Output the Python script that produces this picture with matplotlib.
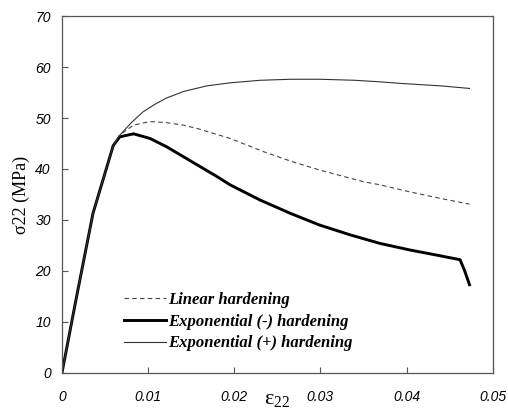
import matplotlib
matplotlib.use("Agg")
import matplotlib.pyplot as plt

# strain / stress curves
strain_lin = [0, 0.0017, 0.0036, 0.00595, 0.0067, 0.0083, 0.0102, 0.0121, 0.0141, 0.0160,
              0.0195, 0.0234, 0.0266, 0.0299, 0.0350, 0.0369, 0.0404, 0.0440, 0.0473]
stress_lin = [0, 15.0, 31.3, 44.6, 46.7, 48.6, 49.3, 49.1, 48.6, 47.8,
              46.0, 43.4, 41.5, 39.8, 37.5, 36.9, 35.5, 34.2, 33.1]

strain_neg = [0, 0.0017, 0.0036, 0.00595, 0.0067, 0.0083, 0.0102, 0.0121, 0.0141, 0.0160,
              0.0180, 0.0195, 0.0230, 0.0265, 0.0299, 0.0334, 0.0369, 0.0404, 0.0435,
              0.0462, 0.0467, 0.0473]
stress_neg = [0, 15.0, 31.3, 44.6, 46.3, 46.9, 46.0, 44.4, 42.4, 40.5,
              38.5, 36.9, 33.9, 31.3, 29.0, 27.1, 25.4, 24.1, 23.1,
              22.2, 20.2, 17.3]

strain_pos = [0, 0.0017, 0.0036, 0.00595, 0.0067, 0.0080, 0.0094, 0.0108, 0.0121, 0.0141,
              0.0168, 0.0195, 0.0230, 0.0265, 0.0300, 0.0340, 0.0369, 0.0392, 0.0440, 0.0473]
stress_pos = [0, 15.0, 31.3, 44.6, 46.6, 49.0, 51.2, 52.7, 53.9, 55.2,
              56.3, 56.9, 57.4, 57.6, 57.6, 57.4, 57.1, 56.8, 56.3, 55.8]

labels = ["Linear hardening", "Exponential (-) hardening", "Exponential (+) hardening"]
x_ticks = [0, 0.01, 0.02, 0.03, 0.04, 0.05]
x_ticklabels = ["0", "0.01", "0.02", "0.03", "0.04", "0.05"]
y_ticks = [0, 10, 20, 30, 40, 50, 60, 70]

fig = plt.figure(figsize=(5.08, 4.12), dpi=100)
ax = fig.add_axes([0.122, 0.095, 0.848, 0.866])

ax.plot(strain_lin, stress_lin, color="#444444", lw=0.8, ls=(0, (4, 3)), label=labels[0])
ax.plot(strain_neg, stress_neg, color="black", lw=2.1, label=labels[1],
        solid_joinstyle="round")
ax.plot(strain_pos, stress_pos, color="#333333", lw=0.8, label=labels[2])

ax.set_xlim(0, 0.05)
ax.set_ylim(0, 70)
ax.tick_params(direction="in", length=4, width=0.8, color="#555555")
ax.tick_params(axis="x", pad=12)
ax.tick_params(axis="y", pad=8)

tick_font = dict(fontstyle="italic", family="Liberation Sans", fontsize=10)
ax.set_xticks(x_ticks)
ax.set_xticklabels(x_ticklabels, **tick_font)
ax.set_yticks(y_ticks)
ax.set_yticklabels([str(v) for v in y_ticks], **tick_font)

for s in ax.spines.values():
    s.set_color("#555555")
    s.set_linewidth(0.9)

ax.set_xlabel(r"$\mathregular{\varepsilon_{22}}$", fontsize=16, family="Liberation Serif",
              labelpad=-10)
ax.set_ylabel("σ22 (MPa)", fontsize=13, family="Liberation Serif", labelpad=4)

ax.legend(loc="lower left", bbox_to_anchor=(0.11, 0.018), frameon=False,
          prop={"family": "Liberation Serif", "style": "italic", "weight": "bold", "size": 12},
          handlelength=2.5, handletextpad=0.1, labelspacing=0.35)

fig.savefig("out.png", dpi=100)
